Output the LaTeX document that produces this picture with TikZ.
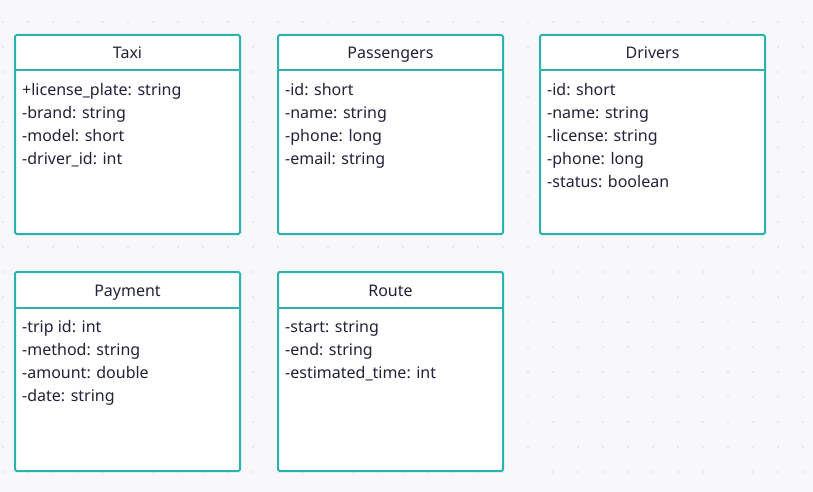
\documentclass[tikz,border=0pt]{standalone}
\usepackage{fontspec}
\setmainfont{Noto Sans}
\definecolor{bg}{HTML}{F8F8FB}
\definecolor{dotc}{HTML}{D6D6DE}
\definecolor{teal}{HTML}{2AB3AE}
\definecolor{txt}{HTML}{22223A}
\tikzset{
  cls/.style={draw=teal, line width=2pt, fill=white, rounded corners=1.5pt},
  sep/.style={draw=teal, line width=2pt},
  title/.style={text=txt, font=\fontsize{16}{18}\selectfont, anchor=base, inner sep=0pt},
  attr/.style={text=txt, font=\fontsize{16}{18}\selectfont, anchor=base west, inner sep=0pt},
}
\begin{document}
\begin{tikzpicture}[x=1pt,y=-1pt]
\fill[bg] (0,0) rectangle (813,492);
\useasboundingbox (0,0) rectangle (813,492);
\foreach \i in {0,...,32} {
  \foreach \j in {0,...,19} {
    \fill[dotc] (3+25*\i, 22+25*\j) circle (0.9);
  }
}
\newcommand{\umlbox}[5]{%
  \draw[cls] (#2,#3) rectangle ++(225,199);
  \draw[sep] (#2,#3+35.5) -- ++(225,0);
  \node[title] (#1t) at (#2+112.5,#3+24) {#4};
  \foreach \t [count=\k] in {#5} {
    \node[attr] (#1a\k) at (#2+7,#3+60.5+23*\k-23) {\t};
  }
}
\umlbox{taxi}{15}{35}{Taxi}{+license\_plate: string,-brand: string,-model: short,-driver\_id: int}
\umlbox{pass}{278}{35}{Passengers}{-id: short,-name: string,-phone: long,-email: string}
\umlbox{drv}{540}{35}{Drivers}{-id: short,-name: string,-license: string,-phone: long,-status: boolean}
\umlbox{pay}{15}{272}{Payment}{-trip id: int,-method: string,-amount: double,-date: string}
\umlbox{route}{278}{272}{Route}{-start: string,-end: string,-estimated\_time: int}
\end{tikzpicture}
\end{document}
